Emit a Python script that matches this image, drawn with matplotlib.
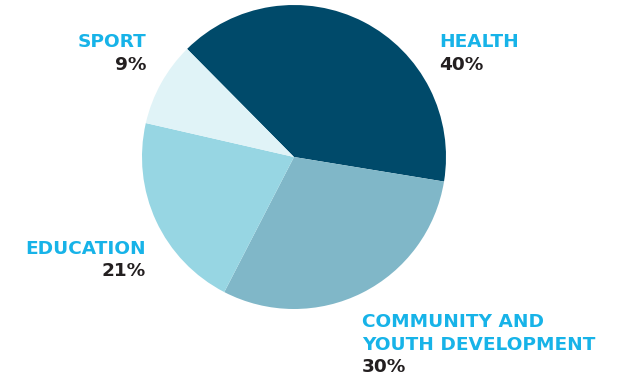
import matplotlib
matplotlib.use("Agg")
import matplotlib.pyplot as plt

labels = ["HEALTH", "COMMUNITY AND\nYOUTH DEVELOPMENT", "EDUCATION", "SPORT"]
values = [40, 30, 21, 9]
colors = ["#004a6a", "#80b7c8", "#97d6e3", "#e0f3f7"]

W, H = 621, 381
fig = plt.figure(figsize=(W / 100, H / 100), dpi=100)
ax = fig.add_axes([0, 0, 1, 1])

ax.pie(values, colors=colors, startangle=134.7, counterclock=False,
       center=(294, H - 157), radius=152, frame=True,
       wedgeprops=dict(linewidth=0))
ax.set_xlim(0, W)
ax.set_ylim(0, H)
ax.set_aspect("equal")
ax.axis("off")

cyan = "#17b3e8"
dark = "#231f20"
fs = 13.3

# x, baseline of first caps line (pixels from top), alignment
pos = {
    "HEALTH": (439, 47, "left"),
    "COMMUNITY AND\nYOUTH DEVELOPMENT": (362, 327, "left"),
    "EDUCATION": (146, 254, "right"),
    "SPORT": (146, 47, "right"),
}
line = 22.5
for lab, v in zip(labels, values):
    x, yb, ha = pos[lab]
    rows = lab.split("\n")
    for i, r in enumerate(rows):
        ax.text(x, H - (yb + line * i), r, color=cyan, fontsize=fs,
                fontweight="bold", ha=ha, va="baseline")
    ax.text(x, H - (yb + line * len(rows)), f"{v}%", color=dark, fontsize=fs,
            fontweight="bold", ha=ha, va="baseline")

fig.savefig("out.png", dpi=100)
